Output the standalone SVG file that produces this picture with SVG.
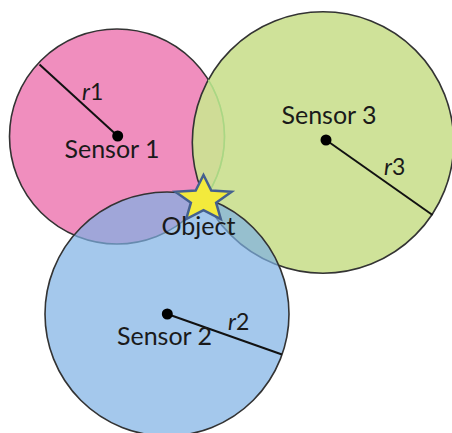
<svg xmlns="http://www.w3.org/2000/svg" width="452" height="433" viewBox="0 0 452 433">
  <style>
    .ring { stroke: #333; stroke-width: 1.6; }
    .label { font-family: Lato, "Open Sans", "Liberation Sans", sans-serif; font-size: 25px; fill: #1a1a1a; text-anchor: middle; }
    .rlab { font-family: Lato, "Open Sans", "Liberation Sans", sans-serif; font-size: 23px; fill: #1a1a1a; }
    .dot { fill: #000; }
    .radius { stroke: #111; stroke-width: 2; fill: none; }
  </style>
  <defs>
    <clipPath id="greenArea">
      <circle cx="323" cy="142.5" r="130.7"/>
    </clipPath>
  </defs>

  <rect width="452" height="433" fill="#ffffff"/>

  <!-- range circle of sensor 1 -->
  <g id="sensor1">
    <circle class="ring" cx="117" cy="136.5" r="107.5" fill="#F08EBE"/>
  </g>

  <!-- range circle of sensor 3, drawn over sensor 1 -->
  <g id="sensor3">
    <circle class="ring" cx="323" cy="142.5" r="130.7" fill="#CCE094" fill-opacity="0.95"/>
    <circle cx="117" cy="136.5" r="107.5" fill="none" stroke="#A9D784" stroke-width="1.6" clip-path="url(#greenArea)"/>
  </g>

  <!-- range circle of sensor 2, translucent over the others -->
  <g id="sensor2">
    <circle class="ring" cx="167" cy="314" r="122" fill="#7DB0E4" fill-opacity="0.7"/>
  </g>

  <!-- radius lines from each sensor to its circle -->
  <g id="connectors">
    <line class="radius" x1="117.7" y1="136" x2="39.5" y2="64.5"/>
    <line class="radius" x1="326" y1="140" x2="432.5" y2="215"/>
    <line class="radius" x1="167.3" y1="314" x2="282" y2="354.5"/>
  </g>

  <g id="sensor1-centre">
    <circle class="dot" cx="117.7" cy="136" r="5.5"/>
    <text class="label" x="112" y="158">Sensor 1</text>
    <text class="rlab" x="82" y="99.5"><tspan font-style="italic">r</tspan>1</text>
  </g>

  <g id="sensor3-centre">
    <circle class="dot" cx="326" cy="140" r="5.5"/>
    <text class="label" x="329" y="124">Sensor 3</text>
    <text class="rlab" x="384" y="175"><tspan font-style="italic">r</tspan>3</text>
  </g>

  <g id="sensor2-centre">
    <circle class="dot" cx="167.3" cy="314" r="5.5"/>
    <text class="label" x="164.5" y="345">Sensor 2</text>
    <text class="rlab" x="228" y="330"><tspan font-style="italic">r</tspan>2</text>
  </g>

  <!-- located object -->
  <g id="object">
    <polygon points="203.5,175 211.3,190.5 231.6,191.8 216.1,202.7 220.8,219 203.5,210.2 186.2,219 190.9,202.7 175.4,191.8 195.7,190.5"
             fill="#F3EA3C" stroke="#44608F" stroke-width="2.5" stroke-linejoin="miter"/>
    <text class="label" x="198.5" y="235">Object</text>
  </g>
</svg>
